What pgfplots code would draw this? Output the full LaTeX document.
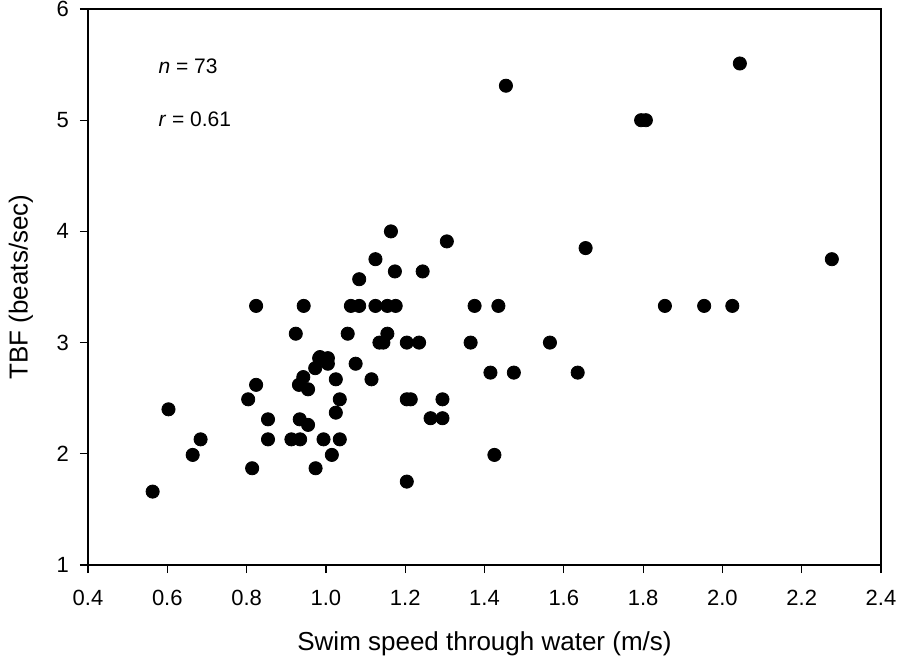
\documentclass[border=0pt]{standalone}
\usepackage{fontspec}
\setmainfont{Liberation Sans}
\usepackage{pgfplots}
\pgfplotsset{compat=1.18}
\begin{document}
\begin{tikzpicture}
\begin{axis}[
  scale only axis,
  width=396.5pt, height=278pt,
  xmin=0.4, xmax=2.4, ymin=1, ymax=6,
  xtick={0.4,0.6,...,2.41}, ytick={1,2,3,4,5,6},
  /pgf/number format/assume math mode=true,
  tick align=outside, xtick pos=bottom, ytick pos=left,
  major tick length=4pt,
  tick style={black, line width=0.6pt},
  axis line style={line width=0.6pt},
  ticklabel style={font=\fontsize{11}{13}\selectfont},
  xticklabel style={yshift=-5pt, /pgf/number format/fixed, /pgf/number format/fixed zerofill, /pgf/number format/precision=1},
  yticklabel style={xshift=-2pt},
  xlabel={Swim speed through water (m/s)},
  ylabel={TBF (beats/sec)},
  label style={font=\fontsize{13}{15}\selectfont},
  xlabel style={yshift=-6pt},
  ylabel style={yshift=5pt},
  clip=false,
]
\addplot[only marks, mark=*, mark size=3.3pt, black] coordinates {
(0.563,1.66) (0.603,2.40) (0.664,1.99) (0.684,2.13) (0.804,2.49)
(0.814,1.87) (0.824,3.33) (0.824,2.62) (0.854,2.31) (0.854,2.13)
(0.913,2.13) (0.935,2.13) (0.924,3.08) (0.944,3.33) (0.932,2.62)
(0.943,2.69) (0.955,2.58) (0.934,2.31) (0.955,2.26) (0.973,2.77)
(0.983,2.86) (1.005,2.86) (1.005,2.81) (0.994,2.13) (0.974,1.87)
(1.015,1.99) (1.025,2.67) (1.025,2.37) (1.035,2.49) (1.035,2.13)
(1.055,3.08) (1.063,3.33) (1.084,3.33) (1.075,2.81) (1.084,3.57)
(1.115,2.67) (1.125,3.75) (1.125,3.33) (1.135,3.00) (1.145,3.00)
(1.155,3.08) (1.155,3.33) (1.176,3.33) (1.164,4.00) (1.174,3.64)
(1.204,3.00) (1.235,3.00) (1.204,2.49) (1.214,2.49) (1.204,1.75)
(1.244,3.64) (1.264,2.32) (1.294,2.32) (1.294,2.49) (1.305,3.91)
(1.365,3.00) (1.375,3.33) (1.435,3.33) (1.415,2.73) (1.425,1.99)
(1.454,5.31) (1.474,2.73) (1.565,3.00) (1.635,2.73) (1.655,3.85)
(1.795,5.00) (1.807,5.00) (1.855,3.33) (1.954,3.33) (2.025,3.33)
(2.044,5.51) (2.276,3.75) (0.985,2.87)
};
\node[anchor=west, font=\fontsize{10.5}{12}\selectfont, inner sep=0pt] at (axis cs:0.577,5.485) {\textit{n} = 73};
\node[anchor=west, font=\fontsize{10.5}{12}\selectfont, inner sep=0pt] at (axis cs:0.577,5.006) {\textit{r} = 0.61};
\end{axis}
\pgfresetboundingbox
\useasboundingbox (-44pt,-49.5pt) rectangle (405.5pt,282.5pt);
\end{tikzpicture}
\end{document}
